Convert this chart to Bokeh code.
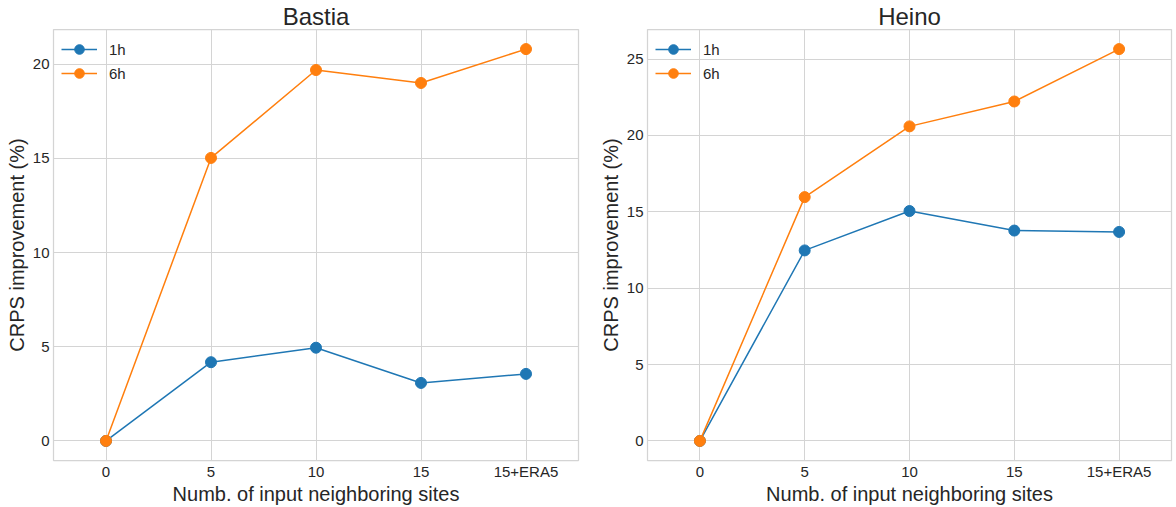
from bokeh.plotting import figure
from bokeh.models import Range1d, SingleIntervalTicker, FixedTicker, Legend
from bokeh.layouts import row
from bokeh.embed import file_html
from bokeh.resources import INLINE

# ---- data ----
categories = ["0", "5", "10", "15", "15+ERA5"]
bastia_1h = [0.0, 4.18, 4.95, 3.08, 3.56]
bastia_6h = [0.0, 15.03, 19.70, 19.01, 20.81]
heino_1h = [0.0, 12.47, 15.05, 13.77, 13.68]
heino_6h = [0.0, 15.96, 20.59, 22.22, 25.65]
series_labels = ["1h", "6h"]
colors = ["#1f77b4", "#ff7f0e"]

FONT = "Liberation Sans"
TXT = "#262626"
GRID = "#d4d4d4"


def make_panel(title, s1, s6, width, bl, br):
    xs = list(range(len(categories)))
    allv = s1 + s6
    lo, hi = min(allv), max(allv)
    pad = 0.05 * (hi - lo)
    p = figure(width=width, height=507, output_backend="svg", toolbar_location=None,
               x_range=Range1d(-0.5, len(categories) - 0.5),
               y_range=Range1d(lo - pad, hi + pad),
               min_border_left=bl, min_border_right=br, min_border_top=4, min_border_bottom=2)
    p.title.text = title
    p.title.align = "center"
    p.title.text_font = FONT
    p.title.text_font_size = "24px"
    p.title.text_font_style = "normal"
    p.title.text_color = TXT
    p.title.standoff = 0

    items = []
    for lab, ys, c in zip(series_labels, [s1, s6], colors):
        l = p.line(xs, ys, line_color=c, line_width=1.5)
        s = p.scatter(xs, ys, size=11, fill_color=c, line_color=c)
        items.append((lab, [l, s]))

    leg = Legend(items=items, location="top_left")
    leg.background_fill_alpha = 0
    leg.border_line_alpha = 0
    leg.margin = 0
    leg.padding = 8
    leg.spacing = -2
    leg.glyph_width = 36
    leg.glyph_height = 24
    leg.label_height = 24
    leg.label_standoff = 12
    leg.label_text_font = FONT
    leg.label_text_font_size = "15px"
    leg.label_text_color = TXT
    p.add_layout(leg)

    p.xaxis.ticker = FixedTicker(ticks=xs)
    p.xaxis.major_label_overrides = {i: c for i, c in zip(xs, categories)}
    p.yaxis.ticker = SingleIntervalTicker(interval=5)
    for ax in (p.xaxis[0], p.yaxis[0]):
        ax.axis_line_color = None
        ax.major_tick_line_color = None
        ax.minor_tick_line_color = None
        ax.major_tick_out = 0
        ax.major_tick_in = 0
        ax.minor_tick_out = 0
        ax.minor_tick_in = 0
        ax.major_label_text_font = FONT
        ax.major_label_text_font_size = "15px"
        ax.major_label_text_color = TXT
        ax.axis_label_text_font = FONT
        ax.axis_label_text_font_size = "20px"
        ax.axis_label_text_font_style = "normal"
        ax.axis_label_text_color = TXT
    p.xaxis.major_label_standoff = 2
    p.xaxis.axis_label_standoff = 0
    p.yaxis.major_label_standoff = 4
    p.yaxis.axis_label_standoff = 2
    p.xaxis.axis_label = "Numb. of input neighboring sites"
    p.yaxis.axis_label = "CRPS improvement (%)"

    p.xgrid.grid_line_color = GRID
    p.ygrid.grid_line_color = GRID
    p.xgrid.grid_line_width = 1
    p.ygrid.grid_line_width = 1
    p.outline_line_color = GRID
    p.outline_line_width = 1.25
    p.background_fill_color = "white"
    p.border_fill_color = "white"
    return p


p1 = make_panel("Bastia", bastia_1h, bastia_6h, 590, 53, 12)
p2 = make_panel("Heino", heino_1h, heino_6h, 586, 57, 5)
layout = row(p1, p2)

open("out.html", "w").write(file_html(layout, INLINE))
